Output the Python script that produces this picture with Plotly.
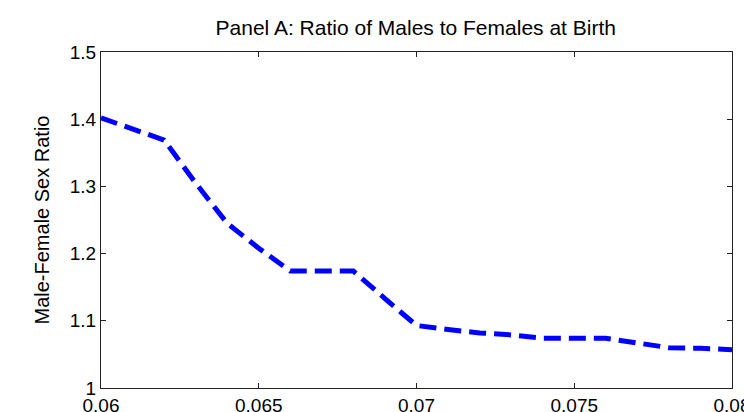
import plotly.graph_objects as go

x_vals = [0.060, 0.061, 0.062, 0.063, 0.064, 0.065, 0.066, 0.067, 0.068, 0.069, 0.070,
          0.071, 0.072, 0.073, 0.074, 0.075, 0.076, 0.077, 0.078, 0.079, 0.080]
ratio = [1.402, 1.386, 1.369, 1.305, 1.245, 1.208, 1.174, 1.174, 1.174, 1.133, 1.093,
         1.087, 1.082, 1.079, 1.074, 1.074, 1.074, 1.067, 1.060, 1.059, 1.057]
x_ticks = [0.06, 0.065, 0.07, 0.075, 0.08]
x_tick_text = ["0.06", "0.065", "0.07", "0.075", "0.08"]
y_ticks = [1.0, 1.1, 1.2, 1.3, 1.4, 1.5]
y_tick_text = ["1", "1.1", "1.2", "1.3", "1.4", "1.5"]

font_family = "Liberation Sans, Arial, sans-serif"

fig = go.Figure()
fig.add_trace(go.Scatter(
    x=x_vals, y=ratio, mode="lines",
    line=dict(color="#0000ff", width=5, dash="17px,8px"),
    showlegend=False, hoverinfo="skip",
))

axis_common = dict(
    showgrid=False, zeroline=False, showline=True, linecolor="#222222", linewidth=1,
    mirror="ticks", ticks="inside", ticklen=5, tickcolor="#222222", tickwidth=1,
    tickfont=dict(family=font_family, size=19, color="black"),
    ticklabeloverflow="allow",
)

fig.update_layout(
    width=744, height=412,
    margin=dict(l=101, r=12, t=52, b=24),
    paper_bgcolor="white", plot_bgcolor="white",
    title=dict(text="Panel A: Ratio of Males to Females at Birth",
               x=(101 + 732) / 2 / 744 - 0.001, xanchor="center", y=1 - 28 / 412, yanchor="middle",
               font=dict(family=font_family, size=21, color="black")),
    xaxis=dict(range=[0.06, 0.0800001], tickvals=x_ticks, ticktext=x_tick_text,
               ticklabelstandoff=0, automargin=False, **axis_common),
    yaxis=dict(range=[1.0, 1.5], tickvals=y_ticks, ticktext=y_tick_text,
               automargin=False,
               title=dict(text="Male-Female Sex Ratio", standoff=14,
                          font=dict(family=font_family, size=20, color="black")),
               **axis_common),
)

fig.write_html("out.html")
